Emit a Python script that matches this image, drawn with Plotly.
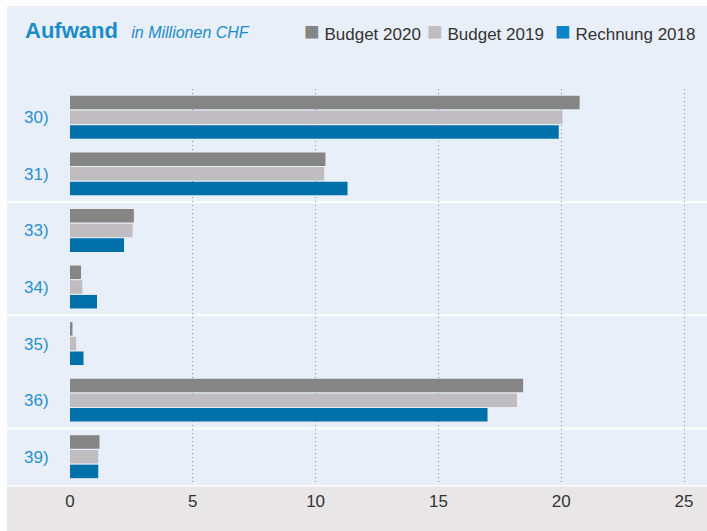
import plotly.graph_objects as go

categories = ["30)", "31)", "33)", "34)", "35)", "36)", "39)"]
budget_2020 = [20.75, 10.4, 2.6, 0.45, 0.1, 18.45, 1.2]
budget_2019 = [20.05, 10.35, 2.55, 0.5, 0.25, 18.2, 1.15]
rechnung_2018 = [19.9, 11.3, 2.2, 1.1, 0.55, 17.0, 1.15]
series_names = ["Budget 2020", "Budget 2019", "Rechnung 2018"]
x_ticks = [0, 5, 10, 15, 20, 25]

W, H = 707, 531
ML, MR, MT, MB = 70, 0, 89, 46
PW, PH = W - ML - MR, H - MT - MB

def px_x(p):
    return (p - ML) / PW

def px_y(p):
    return (H - MB - p) / PH

C_DARK = "#858585"
C_LIGHT = "#bfbdc0"
C_BLUE = "#0071a8"
C_BLUE_LEG = "#0a84c6"
C_PANEL = "#e8eff8"
C_FOOT = "#e8e6e7"
C_TITLE = "#1a8bc9"
FONT = "Liberation Sans, Arial, sans-serif"

fig = go.Figure()
for name, vals, col in zip(series_names, [budget_2020, budget_2019, rechnung_2018],
                           [C_DARK, C_LIGHT, C_BLUE]):
    fig.add_trace(go.Bar(y=categories, x=vals, name=name, orientation="h",
                         marker=dict(color=col, line=dict(width=0)), showlegend=False))

shapes = [
    dict(type="rect", xref="paper", yref="paper", x0=px_x(7), x1=1.0,
         y0=0, y1=px_y(6), fillcolor=C_PANEL, line=dict(width=0), layer="below"),
    dict(type="rect", xref="paper", yref="paper", x0=px_x(7), x1=1.0,
         y0=px_y(531), y1=px_y(486.5), fillcolor=C_FOOT, line=dict(width=0), layer="below"),
]
for b in [1.5, 3.5, 5.5]:
    shapes.append(dict(type="line", xref="paper", yref="y", x0=px_x(7), x1=1.0,
                       y0=b, y1=b, line=dict(color="white", width=2), layer="below"))

annotations = []
leg_x = [302, 425, 553]
for name, col, lx in zip(series_names, [C_DARK, C_LIGHT, C_BLUE_LEG], leg_x):
    annotations.append(dict(
        xref="paper", yref="paper", x=px_x(lx), y=px_y(31), xanchor="left", yanchor="middle",
        showarrow=False,
        text=f"<span style='color:{col};font-size:26px'>■</span> {name}",
        font=dict(family=FONT, size=17, color="#333333")))

fig.update_layout(
    width=W, height=H,
    margin=dict(l=ML, r=MR, t=MT, b=MB),
    paper_bgcolor="white", plot_bgcolor="rgba(0,0,0,0)",
    barmode="group", bargap=0.22, bargroupgap=0.08,
    font=dict(family=FONT, size=17, color="#333333"),
    title=dict(
        text="<b>Aufwand</b><span style='font-size:16px'>\u00a0\u00a0\u00a0<i>in Millionen CHF</i></span>",
        x=25 / W, xanchor="left", xref="container",
        y=1 - 30 / H, yanchor="middle", yref="container",
        font=dict(family=FONT, size=22, color=C_TITLE)),
    shapes=shapes, annotations=annotations,
    xaxis=dict(range=[0, PW / 24.56], tickvals=x_ticks, showgrid=True,
               gridcolor="#4a9fd0", griddash="1px,3px", gridwidth=1,
               zeroline=False, showline=False, ticks="outside", ticklen=1,
               tickcolor="rgba(0,0,0,0)", tickfont=dict(size=17, color="#333333")),
    yaxis=dict(autorange="reversed", showgrid=False, zeroline=False, showline=False,
               ticks="outside", ticklen=17, tickcolor="rgba(0,0,0,0)",
               tickfont=dict(size=17, color="#2a90cc")),
)

fig.write_html("out.html", config={"displayModeBar": False},
               post_script="document.body.style.margin='0';document.body.style.overflow='hidden';")
